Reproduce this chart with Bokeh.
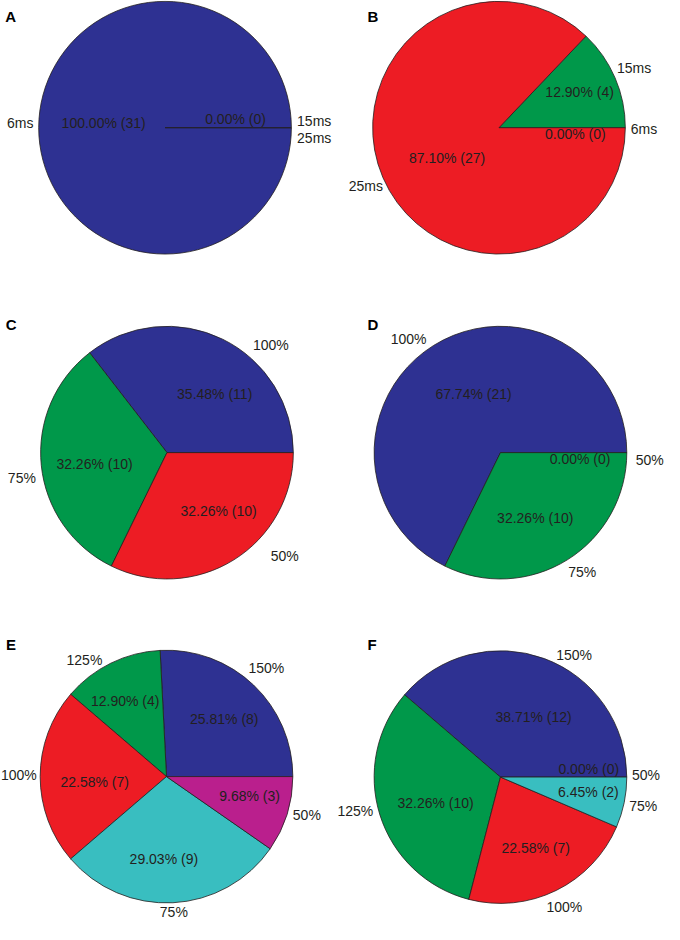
import math
from bokeh.plotting import figure
from bokeh.models import Range1d, ColumnDataSource
from bokeh.core.properties import value
from bokeh.embed import file_html
from bokeh.resources import INLINE

# ---------------- data ----------------
panel_names = ["A", "B", "C", "D", "E", "F"]

ms_categories = ["6ms", "15ms", "25ms"]
a_counts = [31, 0, 0]
b_counts = [0, 4, 27]

pct3_categories = ["100%", "75%", "50%"]
c_counts = [11, 10, 10]
d_counts = [21, 10, 0]

pct5_categories = ["150%", "125%", "100%", "75%", "50%"]
e_counts = [8, 4, 7, 9, 3]
f_counts = [12, 10, 7, 2, 0]

panels = {
    "A": (ms_categories, a_counts),
    "B": (ms_categories, b_counts),
    "C": (pct3_categories, c_counts),
    "D": (pct3_categories, d_counts),
    "E": (pct5_categories, e_counts),
    "F": (pct5_categories, f_counts),
}

slice_colors = ["#2E3192", "#00984A", "#ED1C24", "#39BEC0", "#BA1F8D"]
text_color = "#231F20"

# ---------------- layout (reference pixels, y down) ----------------
PAGE_H = 940
RADIUS = 129
centers = {
    "A": (169.0, 130.0), "B": (510.0, 130.0),
    "C": (171.0, 459.5), "D": (511.5, 459.5),
    "E": (170.5, 788.0), "F": (511.5, 788.5),
}
letter_pos = {
    "A": (11.3, 17.3), "B": (381.3, 17.3),
    "C": (12.0, 330.0), "D": (381.3, 330.0),
    "E": (11.7, 654.0), "F": (380.5, 654.0),
}
# offsets of percentage labels from pie centre (dx, dy-down)
pct_offsets = {
    "A": [(-62.7, -4.5), (72.0, -9.0), (72.0, -9.0)],
    "B": [(78.0, 6.7), (82.3, -36.0), (-53.0, 30.7)],
    "C": [(48.7, -59.5), (-74.0, 11.5), (52.7, 59.5)],
    "D": [(-27.5, -59.5), (35.5, 66.2), (81.3, 6.5)],
    "E": [(59.0, -58.0), (-42.2, -76.3), (-73.3, 6.0), (-2.7, 83.7), (84.8, 19.7)],
    "F": [(33.8, -61.2), (-66.2, 26.5), (36.0, 71.5), (89.8, 15.5), (90.2, -7.8)],
}
# offsets of category labels from pie centre (dx, dy-down)
cat_offsets = {
    "A": [(-147.8, -4.7), (152.3, -6.7), (152.3, 10.0)],
    "B": [(148.0, 1.7), (138.0, -60.7), (-136.0, 59.0)],
    "C": [(106.0, -109.5), (-148.2, 26.2), (120.2, 104.8)],
    "D": [(-93.8, -115.2), (83.5, 121.2), (152.5, 7.2)],
    "E": [(102.0, -109.7), (-83.8, -118.0), (-150.8, -1.3), (7.5, 137.5), (143.3, 38.7)],
    "F": [(75.2, -123.5), (-148.2, 34.8), (65.2, 131.5), (145.7, 29.8), (148.5, -1.8)],
}

p = figure(width=664, height=924, x_range=Range1d(1, 679), y_range=Range1d(2, 939),
           output_backend="svg", toolbar_location=None, min_border=0,
           x_axis_type=None, y_axis_type=None)
p.grid.visible = False
p.outline_line_color = None
p.background_fill_color = "white"
p.border_fill_color = "white"

font = value("Liberation Sans")

for name in panel_names:
    cats, counts = panels[name]
    total = sum(counts)
    cx, cy = centers[name]
    X, Y = cx, PAGE_H - cy
    wx, wy, starts, ends, cols = [], [], [], [], []
    acc = 0.0
    for i, c in enumerate(counts):
        s = acc / total * 2 * math.pi
        acc += c
        e = acc / total * 2 * math.pi
        if c == 0:
            continue  # zero-size slice: nothing to fill
        e = min(e, s + 2 * math.pi - 1e-3)
        wx.append(X); wy.append(Y)
        starts.append(s); ends.append(e)
        cols.append(slice_colors[i])
    src = ColumnDataSource(dict(x=wx, y=wy, start=starts, end=ends, color=cols))
    p.wedge(x="x", y="y", radius=RADIUS, start_angle="start", end_angle="end",
            direction="anticlock", fill_color="color", line_color=text_color,
            line_width=0.8, source=src)

    # percentage labels (identical overlapping labels drawn once)
    seen = set()
    px, py, pt = [], [], []
    for c, (dx, dy) in zip(counts, pct_offsets[name]):
        t = f"{c / total * 100:.2f}% ({c})"
        key = (t, dx, dy)
        if key in seen:
            continue
        seen.add(key)
        px.append(cx + dx); py.append(PAGE_H - (cy + dy)); pt.append(t)
    p.text(x=px, y=py, text=pt, text_align="center", text_baseline="middle",
           text_font=font, text_font_size="14px", text_color=text_color)

    lx = [cx + dx for dx, dy in cat_offsets[name]]
    ly = [PAGE_H - (cy + dy) for dx, dy in cat_offsets[name]]
    p.text(x=lx, y=ly, text=list(cats), text_align="center", text_baseline="middle",
           text_font=font, text_font_size="14px", text_color=text_color)

    tx, ty = letter_pos[name]
    p.text(x=[tx], y=[PAGE_H - ty], text=[name], text_align="center",
           text_baseline="middle", text_font=font, text_font_size="15px",
           text_font_style="bold", text_color="#000000")

open("out.html", "w").write(file_html(p, INLINE))
